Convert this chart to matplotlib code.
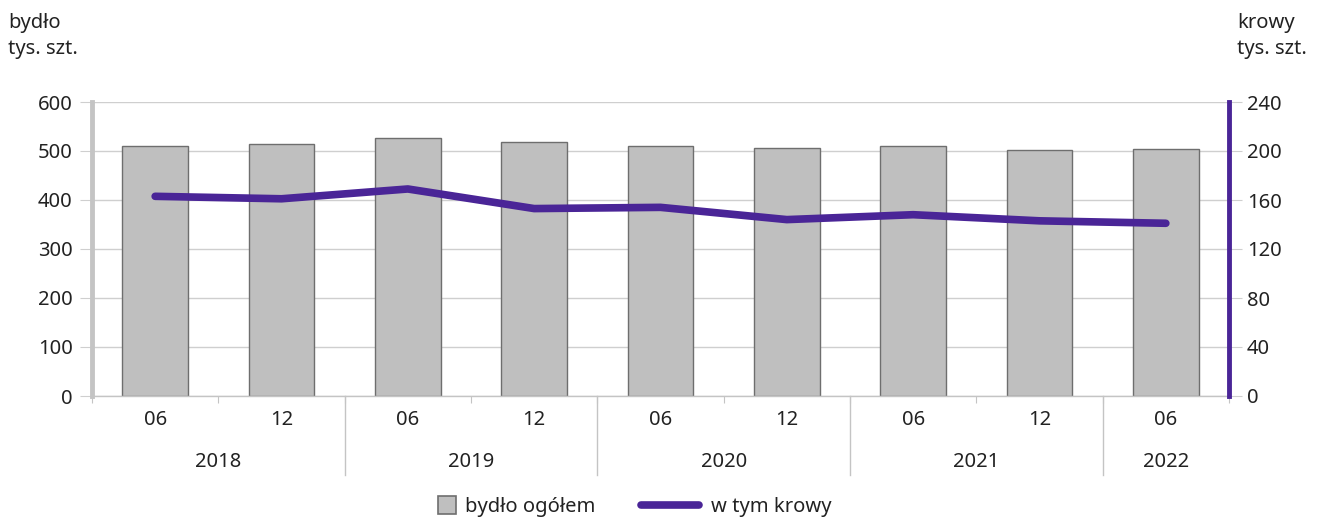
import numpy as np
import matplotlib.pyplot as plt
from matplotlib.lines import Line2D

plt.rcParams['font.family'] = ['Noto Sans', 'DejaVu Sans']

months = ['06', '12', '06', '12', '06', '12', '06', '12', '06']
years = ['2018', '2019', '2020', '2021', '2022']
year_spans = [(0, 1), (2, 3), (4, 5), (6, 7), (8, 8)]
bydlo = [510, 514, 526, 518, 510, 506, 510, 502, 504]
krowy = [163, 161, 169, 153, 154, 144, 148, 143, 141]

purple = '#4a2597'
txt = '#222222'
grid = '#cfcfcf'
fs = 14.5

fig = plt.figure(figsize=(13.17, 5.2), dpi=100)
ax = fig.add_axes([92/1317, 1-396/520, (1229-92)/1317, (396-102)/520])
ax2 = ax.twinx()

x = np.arange(len(months))
ax.bar(x, bydlo, width=0.52, color='#bfbfbf', edgecolor='#6e6e6e', linewidth=1, zorder=2)
ax2.plot(x, krowy, color=purple, linewidth=5.5, solid_capstyle='round', solid_joinstyle='round', zorder=3)

ax.set_xlim(-0.5, len(months)-0.5)
ax.set_ylim(0, 600)
ax2.set_ylim(0, 240)
ax.set_yticks(range(0, 601, 100))
ax2.set_yticks(range(0, 241, 40))
ax.yaxis.grid(True, color=grid, linewidth=1, zorder=0)
ax.set_axisbelow(True)

for s in ['top', 'right']:
    ax.spines[s].set_visible(False)
ax2.spines['top'].set_visible(False)
ax2.spines['left'].set_visible(False)
ax.spines['left'].set_color('#c4c4c4')
ax.spines['left'].set_linewidth(3.5)
ax.spines['bottom'].set_color('#c4c4c4')
ax.spines['bottom'].set_linewidth(1)
ax2.spines['bottom'].set_visible(False)
ax2.spines['right'].set_color(purple)
ax2.spines['right'].set_linewidth(3.5)

ax.tick_params(axis='y', length=9, color=grid, labelsize=fs, labelcolor=txt, pad=5)
ax2.tick_params(axis='y', length=9, color=grid, labelsize=fs, labelcolor=txt, pad=4)

# x ticks at boundaries, labels drawn as text
ax.set_xticks(np.arange(-0.5, len(months), 1))
ax.set_xticklabels([])
ax.tick_params(axis='x', length=5, color='#c4c4c4')

trans = ax.get_xaxis_transform()
for i, m in enumerate(months):
    ax.text(i, -0.08, m, transform=trans, ha='center', va='center', fontsize=fs, color=txt)
for yr, (a, b) in zip(years, year_spans):
    ax.text((a+b)/2, -0.225, yr, transform=trans, ha='center', va='center', fontsize=fs, color=txt)
for a, b in year_spans[:-1]:
    ax.plot([b+0.5, b+0.5], [0, -0.27], transform=trans, color='#c4c4c4', linewidth=1, clip_on=False)

fig.text(8/1317, 1-36/520, 'bydło\ntys. szt.', ha='left', va='center', fontsize=fs, color=txt, linespacing=1.45)
fig.text(1237/1317, 1-36/520, 'krowy\ntys. szt.', ha='left', va='center', fontsize=fs, color=txt, linespacing=1.45)

h_bar = Line2D([0], [0], linestyle='none', marker='s', markersize=13.5, markerfacecolor='#bfbfbf',
               markeredgecolor='#6e6e6e', markeredgewidth=1.2, label='bydło ogółem')
h_line = Line2D([0], [0], color=purple, linewidth=5.5, solid_capstyle='round', label='w tym krowy')
leg1 = fig.legend(handles=[h_bar], loc='center left', bbox_to_anchor=(426/1317, 1-507/520), frameon=False,
                  fontsize=fs, handlelength=1.1, handletextpad=0.35, labelcolor=txt, borderpad=0)
leg2 = fig.legend(handles=[h_line], loc='center left', bbox_to_anchor=(631/1317, 1-507/520), frameon=False,
                  fontsize=fs, handlelength=2.9, handletextpad=0.55, labelcolor=txt, borderpad=0)

fig.savefig('out.png', dpi=100)
